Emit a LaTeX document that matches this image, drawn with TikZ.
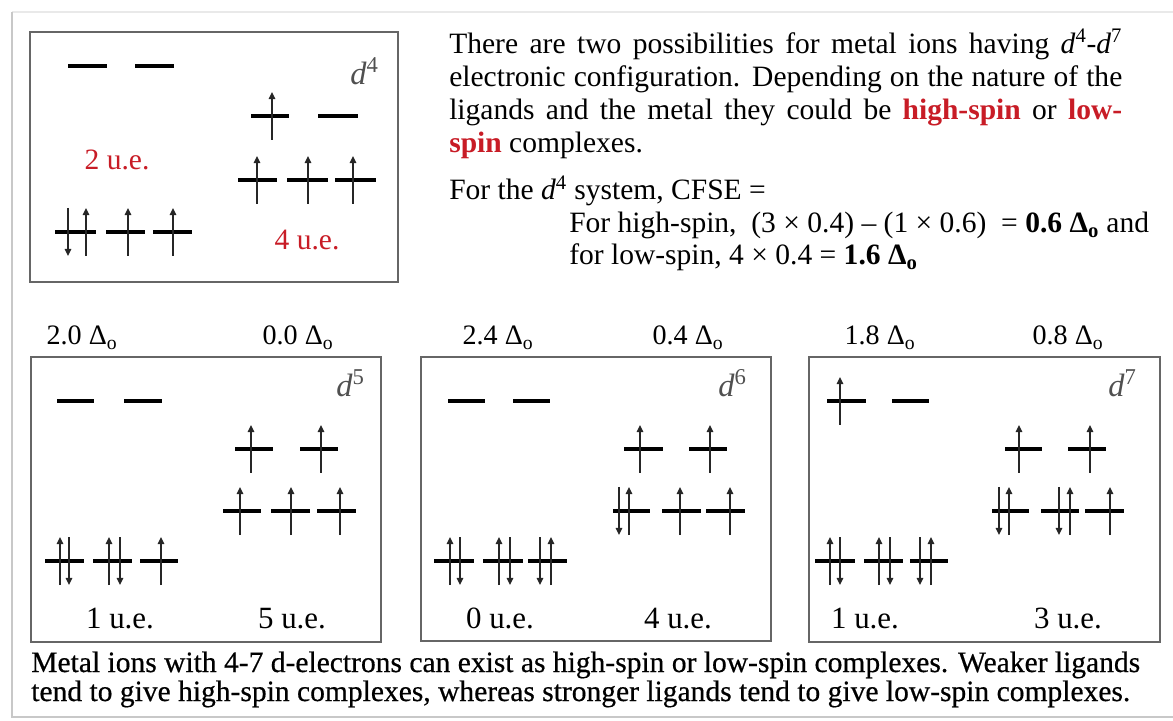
\documentclass[tikz,border=0pt]{standalone}
\usepackage{fontspec}
\setmainfont{Liberation Serif}
\newfontfamily\notefont[FakeBold=0.5]{Liberation Serif}
\usetikzlibrary{arrows.meta}
\definecolor{hsred}{RGB}{200,28,38}
\definecolor{dlabel}{RGB}{80,80,80}
\definecolor{framegrey}{RGB}{200,200,200}
% one orbital level, and one electron up or down on it
\newcommand{\lvl}[3]{\draw[orbline] (#1,#3) -- (#2,#3);}
\newcommand{\eup}[2]{\draw[spinarrow] (#1,#2+24) -- (#1,#2-24);}
\newcommand{\edn}[2]{\draw[spinarrow] (#1,#2-24) -- (#1,#2+24);}
\newcommand{\dconf}[1]{\textit{d}\textsuperscript{#1}}
\newcommand{\Dto}{Δ\textsubscript{o}}

\begin{document}
\begin{tikzpicture}[
    x=0.025cm,
    y=-0.025cm,
    orbline/.style={
        line width=3.4pt
    },
    spinarrow/.style={
        line width=0.9pt,
        draw=black!85,
        -{Triangle[length=5pt,width=4.6pt]}
    },
    configbox/.style={
        draw=black!60,
        line width=0.8pt
    },
    dlab/.style={
        anchor=base east,
        inner sep=0pt,
        text=dlabel,
        font=\fontsize{23}{27}\selectfont
    },
    uelab/.style={
        anchor=base,
        inner sep=0pt,
        font=\fontsize{22}{26}\selectfont
    },
    cfselab/.style={
        anchor=base,
        inner sep=0pt,
        font=\fontsize{20}{24}\selectfont
    },
    bodytext/.style={
        anchor=base west,
        inner sep=0pt,
        font=\fontsize{21}{23.5}\selectfont
    }
]

\useasboundingbox (0,0) rectangle (1173,721);

% page frame
\draw[framegrey!40, line width=1pt] (12,12) -- (1173,12);
\draw[framegrey, line width=2pt] (12,12) -- (12,717) -- (1173,717);

% d4 panel
\draw[configbox] (30,32) rectangle (398,282);
\node[dlab] (dfour) at (379,85) {\dconf{4}};
\lvl{68}{107}{66} \lvl{135}{174}{66}
\lvl{251}{289}{116} \eup{272}{116}
\lvl{318}{358}{116}
\lvl{238}{277}{180} \eup{257}{180}
\lvl{287}{328}{180} \eup{308}{180}
\lvl{335}{376}{180} \eup{353}{180}
\lvl{55}{96}{232} \edn{68}{232} \eup{86}{232}
\lvl{106}{145}{232} \eup{128}{232}
\lvl{153}{192}{232} \eup{173}{232}
\node[uelab, font=\fontsize{21}{25}\selectfont, text=hsred] (uefourls) at (117,170) {2 u.e.};
\node[uelab, font=\fontsize{21}{25}\selectfont, text=hsred] (uefourhs) at (307,250) {4 u.e.};

% explanation
\node[bodytext, anchor=north west, text width=673*0.025cm, align=justify]
    (intro) at (449,29)
{There are two possibilities for metal ions having \dconf{4}-\dconf{7}\linebreak
electronic configuration. Depending on the nature of the\linebreak
ligands and the metal they could be \textcolor{hsred}{\textbf{high-spin}}
or \textcolor{hsred}{\textbf{low-}}\linebreak
\textcolor{hsred}{\textbf{spin}} complexes.};

\node[bodytext] (cfse) at (449,200)
{For the \dconf{4} system, CFSE =};
\node[bodytext] (cfsehs) at (569,233)
{For high-spin,\ \ (3 × 0.4) – (1 × 0.6)\ \ = \textbf{0.6 \Dto} and};
\node[bodytext] (cfsels) at (569,265)
{for low-spin, 4 × 0.4 = \textbf{1.6 \Dto}};

% d5 panel
\draw[configbox] (31,357) rectangle (381,642);
\node[cfselab] (cfsefivels) at (82,345) {2.0 \Dto};
\node[cfselab] (cfsefivehs) at (298,345) {0.0 \Dto};
\node[dlab] (dfive) at (365,397) {\dconf{5}};
\lvl{57}{94}{401} \lvl{124}{162}{401}
\lvl{235}{273}{449} \eup{251}{449}
\lvl{300}{338}{449} \eup{321}{449}
\lvl{223}{261}{511} \eup{240}{511}
\lvl{271}{310}{511} \eup{291}{511}
\lvl{317}{356}{511} \eup{340}{511}
\lvl{45}{84}{561} \eup{60}{561} \edn{69}{561}
\lvl{93}{132}{561} \eup{109}{561} \edn{120}{561}
\lvl{140}{178}{561} \eup{161}{561}
\node[uelab] (uefivels) at (120,628) {1 u.e.};
\node[uelab] (uefivehs) at (292,628) {5 u.e.};

% d6 panel
\draw[configbox] (421,357) rectangle (771,641);
\node[cfselab] (cfsesixls) at (498,345) {2.4 \Dto};
\node[cfselab] (cfsesixhs) at (688,345) {0.4 \Dto};
\node[dlab] (dsix) at (747,397) {\dconf{6}};
\lvl{448}{485}{401} \lvl{513}{550}{401}
\lvl{624}{663}{449} \eup{640}{449}
\lvl{689}{727}{449} \eup{710}{449}
\lvl{613}{650}{511} \edn{619}{511} \eup{629}{511}
\lvl{662}{701}{511} \eup{680}{511}
\lvl{706}{745}{511} \eup{730}{511}
\lvl{434}{474}{561} \eup{450}{561} \edn{460}{561}
\lvl{483}{523}{561} \eup{499}{561} \edn{510}{561}
\lvl{528}{567}{561} \edn{540}{561} \eup{551}{561}
\node[uelab] (uesixls) at (500,628) {0 u.e.};
\node[uelab] (uesixhs) at (678,628) {4 u.e.};

% d7 panel
\draw[configbox] (809,357) rectangle (1160,642);
\node[cfselab] (cfsesevenls) at (880,345) {1.8 \Dto};
\node[cfselab] (cfsesevenhs) at (1068,345) {0.8 \Dto};
\node[dlab] (dseven) at (1137,397) {\dconf{7}};
\lvl{827}{866}{401} \eup{840}{401}
\lvl{892}{929}{401}
\lvl{1005}{1042}{449} \eup{1019}{449}
\lvl{1068}{1106}{449} \eup{1090}{449}
\lvl{992}{1029}{511} \edn{999}{511} \eup{1009}{511}
\lvl{1041}{1079}{511} \edn{1059}{511} \eup{1070}{511}
\lvl{1085}{1124}{511} \eup{1110}{511}
\lvl{815}{855}{561} \eup{830}{561} \edn{840}{561}
\lvl{864}{903}{561} \eup{879}{561} \edn{890}{561}
\lvl{910}{948}{561} \edn{920}{561} \eup{931}{561}
\node[uelab] (uesevenls) at (865,628) {1 u.e.};
\node[uelab] (uesevenhs) at (1068,628) {3 u.e.};

% summary
\node[bodytext, font=\notefont\fontsize{21}{24}\selectfont] (notea) at (31,672)
{Metal ions with 4-7 d-electrons can exist as high-spin or low-spin complexes. Weaker ligands};
\node[bodytext, font=\notefont\fontsize{21}{24}\selectfont] (noteb) at (31,701)
{tend to give high-spin complexes, whereas stronger ligands tend to give low-spin complexes.};

\end{tikzpicture}
\end{document}
